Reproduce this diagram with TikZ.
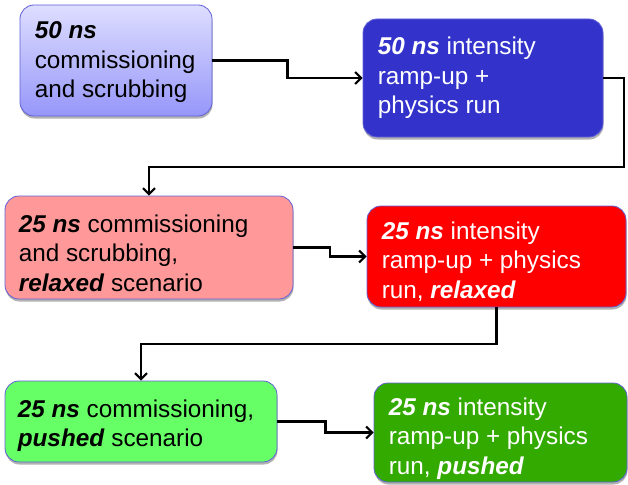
\documentclass[tikz,border=0pt]{standalone}
\usepackage{fontspec}
\setmainfont{Liberation Sans}
\usetikzlibrary{calc,arrows.meta,shadows}
\definecolor{bdr}{HTML}{6161D6}
\definecolor{cA1}{HTML}{DEDEFF}
\definecolor{cA2}{HTML}{9696FA}
\definecolor{cB}{HTML}{3333CC}
\definecolor{cC}{HTML}{FF9999}
\definecolor{cD}{HTML}{FF0000}
\definecolor{cE}{HTML}{66FF66}
\definecolor{cF}{HTML}{33AA00}
\newcommand\bi[1]{\textbf{\textit{#1}}}
\tikzset{
  box/.style={draw=bdr, line width=0.8pt, rounded corners=14pt, inner sep=0pt,
    drop shadow={shadow xshift=0.5pt, shadow yshift=-2.5pt, opacity=0.3, fill=black}},
  txt/.style={anchor=west, align=left, inner sep=0pt,
    font={\fontsize{24.3pt}{29.5pt}\selectfont}},
  conn/.style={line width=2.1pt, -{Straight Barb[length=6pt,width=12pt,line width=2.1pt]}}
}
\begin{document}
\begin{tikzpicture}[x=1pt,y=-1pt]
\useasboundingbox (0,0) rectangle (628,484);
\node[box, top color=cA1, bottom color=cA2, minimum width=192pt, minimum height=111pt] (b1) at (116,60.5) {};
\node[box, fill=cB, minimum width=240pt, minimum height=118pt] (b2) at (483,78) {};
\node[box, fill=cC, minimum width=288pt, minimum height=103pt] (b3) at (149,247.5) {};
\node[box, fill=cD, minimum width=259pt, minimum height=101pt] (b4) at (496.5,256.5) {};
\node[box, fill=cE, minimum width=272pt, minimum height=81pt] (b5) at (141,421.5) {};
\node[box, fill=cF, minimum width=253pt, minimum height=99pt] (b6) at (500.5,432.5) {};
\node[txt] (t1) at ($(b1.west)+(15,2)$) {\bi{50 ns}\\commissioning\\and scrubbing};
\node[txt, text=white] (t2) at ($(b2.west)+(15,0)$) {\bi{50 ns} intensity\\ramp-up +\\physics run};
\node[txt] (t3) at ($(b3.west)+(14,5.5)$) {\bi{25 ns} commissioning\\and scrubbing,\\\bi{relaxed} scenario};
\node[txt, text=white] (t4) at ($(b4.west)+(15,5)$) {\bi{25 ns} intensity\\ramp-up + physics\\run, \bi{relaxed}};
\node[txt] (t5) at ($(b5.west)+(13,4)$) {\bi{25 ns} commissioning,\\\bi{pushed} scenario};
\node[txt, text=white] (t6) at ($(b6.west)+(15,6)$) {\bi{25 ns} intensity\\ramp-up + physics\\run, \bi{pushed}};
\coordinate (c1) at (624,167);
\coordinate (c2) at (496.5,344);
\draw[conn] (b1.east) -| ($(b1.east)!.5!(b2.west)$) |- (b2.west);
\draw[conn] (b2.east) -| (c1) -| (b3.north);
\draw[conn] (b3.east) -| ($(b3.east)!.5!(b4.west)$) |- (b4.west);
\draw[conn] (b4.south) -- (c2) -| (b5.north);
\draw[conn] (b5.east) -| ($(b5.east)!.5!(b6.west)$) |- (b6.west);
\end{tikzpicture}
\end{document}
